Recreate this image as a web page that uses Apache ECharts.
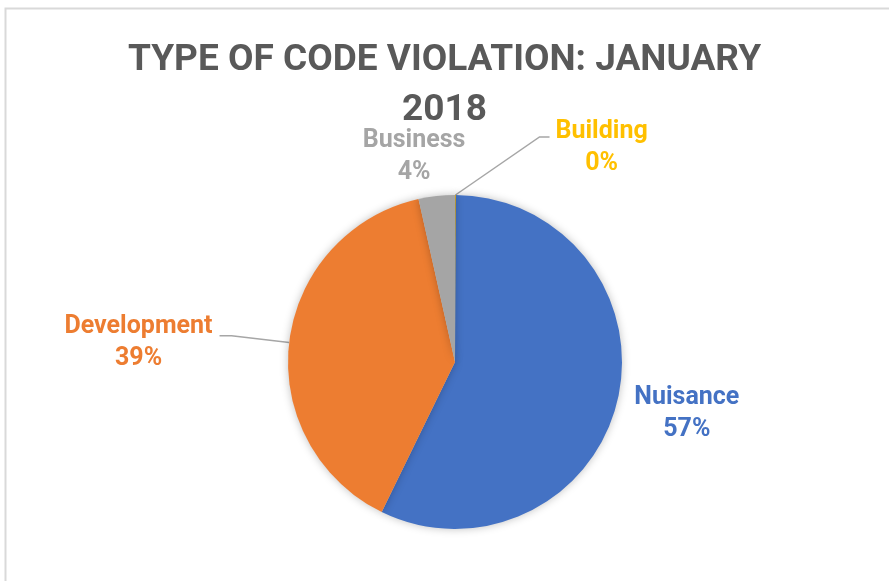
<!DOCTYPE html>
<html>
<head>
<meta charset="utf-8">
<script src="https://cdn.jsdelivr.net/npm/echarts@6/dist/echarts.min.js"></script>
<style>
  html, body { margin: 0; padding: 0; background: #fff; }
  #main { width: 889px; height: 581px; }
</style>
</head>
<body>
<div id="main"></div>
<script>
// violation types, clockwise from 12 o'clock
var categories = ['Building', 'Nuisance', 'Development', 'Business'];
var counts = [0, 163, 112, 10];
var colors = ['#FFC000', '#4472C4', '#ED7D31', '#A5A5A5'];

// label line style per slice
var lineLen = [30, 10, 58, 30];
var lineLen2 = [10, 2, 12, 0];
var lineShow = [true, false, true, false];
// extra nudges for the label boxes
var nudgeX = [85, 0, -2, 37];
var nudgeY = [-17, 11, 7, -9];

var myChart = echarts.init(document.getElementById('main'));

var pieData = [];
for (var i = 0; i < categories.length; i++) {
	pieData.push({
		name: categories[i],
		value: counts[i],
		itemStyle: { color: colors[i] },
		labelLine: { show: lineShow[i], length: lineLen[i], length2: lineLen2[i] }
	});
}

//居中显示标签, 并微调位置
function placeLabel(p) {
	var i = p.dataIndex;
	var r = p.labelRect;
	var x = r.x + r.width / 2 + nudgeX[i];
	var y = r.y + r.height / 2 + nudgeY[i];
	var res = { x: x, y: y, align: 'center', verticalAlign: 'middle' };
	var pts = p.labelLinePoints;
	if (pts && lineShow[i]) {
		if (i == 0) {
			// building: diagonal + short flat piece to the left of label
			var left = x - r.width / 2 - 6;
			var ty = y - r.height / 4 + 5;
			res.labelLinePoints = [pts[0], [left - 10, ty], [left, ty]];
		} else {
			res.labelLinePoints = pts;
		}
	}
	return res;
}

var option = {
	animation: false,
	backgroundColor: '#fff',
	title: {
		text: 'TYPE OF CODE VIOLATION: JANUARY\n2018',
		left: 'center',
		top: 36,
		padding: 0,
		textStyle: {
			fontFamily: 'Roboto',
			fontWeight: 'bold',
			fontSize: 37,
			lineHeight: 50,
			color: '#595959'
		}
	},
	graphic: [{
		type: 'rect',
		shape: { x: 5.5, y: 8.5, width: 1000, height: 1000 },
		style: { fill: 'none', stroke: '#d9d9d9', lineWidth: 2 },
		silent: true
	}],
	series: [{
		type: 'pie',
		center: [455, 362],
		radius: 167,
		startAngle: 90,
		clockwise: true,
		minAngle: 0.3,
		avoidLabelOverlap: false,
		data: pieData,
		itemStyle: {
			shadowBlur: 8,
			shadowColor: 'rgba(0,0,0,0.25)'
		},
		label: {
			show: true,
			position: 'outside',
			color: 'inherit',
			fontFamily: 'Roboto',
			fontWeight: 'bold',
			fontSize: 25,
			lineHeight: 32,
			formatter: function(p) {
				return p.name + '\n' + Math.round(p.percent) + '%';
			}
		},
		labelLine: {
			lineStyle: { color: '#A6A6A6', width: 1.5 }
		},
		labelLayout: placeLabel
	}]
};

myChart.setOption(option);
</script>
</body>
</html>
